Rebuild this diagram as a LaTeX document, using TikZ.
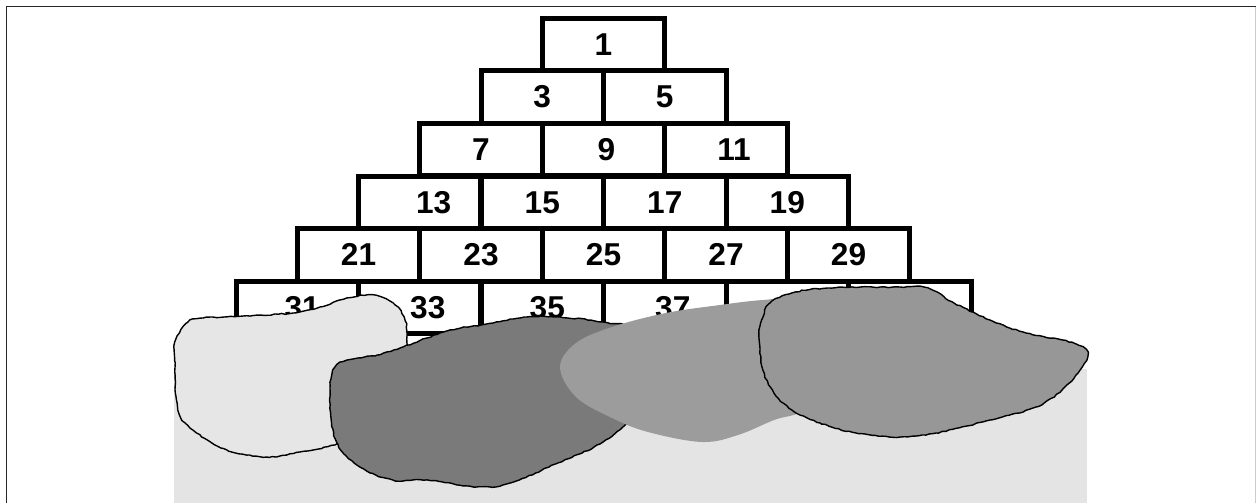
\documentclass[tikz,border=0pt]{standalone}
\usepackage{fontspec}
\setmainfont{Liberation Sans}
\usetikzlibrary{decorations.pathmorphing}
\definecolor{groundgray}{HTML}{E4E4E4}
\definecolor{palegray}{HTML}{E6E6E6}
\definecolor{darkgray}{HTML}{7A7A7A}
\definecolor{midgray}{HTML}{9C9C9C}
\definecolor{rightgray}{HTML}{979797}
\begin{document}
\begin{tikzpicture}[x=0.02cm,y=-0.02cm,
  brick/.style={draw,line width=0.1cm,minimum width=2.45cm,minimum height=1.052cm,
    inner sep=0pt,font=\fontsize{18}{20}\selectfont\bfseries},
  blob/.style={draw=black,line width=0.8pt,decorate,
    decoration={random steps,segment length=2pt,amplitude=0.35pt}}]
  \useasboundingbox (0,0) rectangle (1256,503);
  % frame
  \draw[line width=0.02cm,black!85] (6,503) -- (6,7) -- (1256,7);
  \draw[line width=0.02cm,black!20] (1255,7) -- (1255,503);
  % pyramid
  \node[brick] (b1) at (603.5,44.5) {1};
  \node[brick] (b3) at (542.25,97.1) {3};
  \node[brick] (b5) at (664.75,97.1) {5};
  \node[brick] (b7) at (481,149.7) {7};
  \node[brick] (b9) at (603.5,149.7) {\hspace*{0.12cm}9};
  \node[brick] (b11) at (726,149.7) {\hspace*{0.32cm}11};
  \node[brick] (b13) at (419.75,202.3) {\hspace*{0.56cm}13};
  \node[brick] (b15) at (542.25,202.3) {15};
  \node[brick] (b17) at (664.75,202.3) {17};
  \node[brick] (b19) at (787.25,202.3) {19};
  \node[brick] (b21) at (358.5,254.9) {21};
  \node[brick] (b23) at (481,254.9) {23};
  \node[brick] (b25) at (603.5,254.9) {25};
  \node[brick] (b27) at (726,254.9) {27};
  \node[brick] (b29) at (848.5,254.9) {29};
  \node[brick] (b31) at (297.25,307.5) {\hspace*{0.2cm}31};
  \node[brick] (b33) at (419.75,307.5) {\hspace*{0.32cm}33};
  \node[brick] (b35) at (542.25,307.5) {\hspace*{0.2cm}35};
  \node[brick] (b37) at (664.75,307.5) {\hspace*{0.32cm}37};
  \node[brick] (b39) at (787.25,307.5) {};
  \node[brick] (b41) at (909.75,307.5) {};
  % ground and blobs
  \fill[groundgray] (174,369) rectangle (1087,503);
  \draw[blob,fill=palegray] plot[smooth cycle,tension=0.6] coordinates {
    (175,342) (187,323) (203,318) (243,316) (293,313) (320,307) (347,298)
    (373,295) (393,303) (404,317) (407,335) (405,360) (395,385) (370,420)
    (338,443) (300,452) (267,457) (227,450) (193,430) (178,410) (175,367)};
  \draw[blob,fill=darkgray] plot[smooth cycle,tension=0.6] coordinates {
    (333,370) (347,360) (377,355) (400,348) (427,338) (450,330) (493,323)
    (527,317) (560,317) (603,322) (640,330) (660,360) (650,400) (623,427)
    (594,447) (558,463) (510,483) (477,487) (427,480) (393,480) (360,467)
    (337,443) (330,403)};
  \fill[midgray] plot[smooth cycle,tension=0.6] coordinates {
    (560,367) (576,343) (612,327) (666,313) (720,305) (763,300) (800,300)
    (820,330) (815,380) (803,410) (774,420) (738,435) (702,442) (648,432)
    (612,418) (576,397)};
  \draw[blob,fill=rightgray] plot[smooth cycle,tension=0.6] coordinates {
    (763,317) (770,303) (792,293) (828,288) (900,287) (928,288) (954,303)
    (990,320) (1026,333) (1062,340) (1083,347) (1087,357) (1080,370)
    (1062,390) (1036,407) (990,420) (936,433) (900,437) (856,433) (820,423)
    (792,410) (774,393) (763,370) (759,337)};
\end{tikzpicture}
\end{document}
